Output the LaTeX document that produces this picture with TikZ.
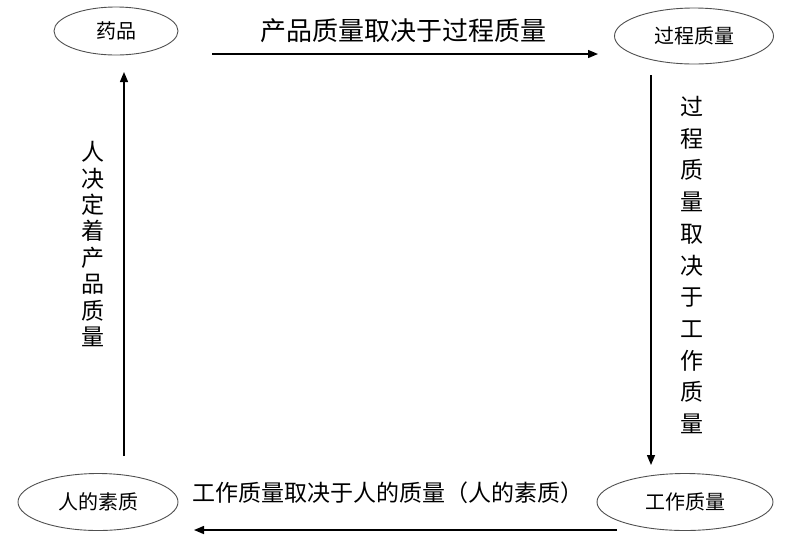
\documentclass[tikz,border=0pt]{standalone}
\usepackage{fontspec}
\setmainfont{Noto Sans CJK SC}
\usetikzlibrary{shapes.geometric,arrows.meta}
\tikzset{
  oval/.style={ellipse,draw={rgb,255:red,80;green,80;blue,80},line width=0.9pt,inner sep=0pt,font=\fontsize{20}{20}\selectfont},
  flow/.style={line width=1.4pt,-{Triangle[length=10pt,width=8pt]}},
}
\begin{document}
\begin{tikzpicture}[x=1pt,y=1pt,yscale=-1,xscale=1]
\useasboundingbox (0,0) rectangle (800,558);

% Ellipses
\node [oval,minimum width=124,minimum height=48] (yp) at (116,31) {药品};
\node [oval,minimum width=159,minimum height=56] (gczl) at (694,36) {过程质量};
\node [oval,minimum width=160,minimum height=57] (rdsz) at (98,502) {人的素质};
\node [oval,minimum width=176,minimum height=57] (gzzl) at (685,502) {工作质量};

% Arrow ends
\coordinate (topA) at (212,54);
\coordinate (topB) at (598,54);
\coordinate (rgtA) at (651,75);
\coordinate (rgtB) at (651,465);
\coordinate (botA) at (617,530);
\coordinate (botB) at (194,530);
\coordinate (lftA) at (124,456);
\coordinate (lftB) at (124,72);

%Straight Lines
\draw [flow] (topA) -- (topB);
\draw [flow] (rgtA) -- (rgtB);
\draw [flow] (botA) -- (botB);
\draw [flow] (lftA) -- (lftB);

% Text Node
\node [inner sep=0pt,font=\fontsize{26}{26}\selectfont] (ttop) at (403,31) {产品质量取决于过程质量};
% Text Node
\node [inner sep=0pt,font=\fontsize{23}{23}\selectfont] (tbot) at (388,493) {工作质量取决于人的质量（人的素质）};
% Text Node
\node [inner sep=0pt,align=center,font=\fontsize{23}{31.7}\selectfont] (trgt) at (692,265) {过\\程\\质\\量\\取\\决\\于\\工\\作\\质\\量};
% Text Node
\node [inner sep=0pt,align=center,font=\fontsize{23}{26.4}\selectfont] (tlft) at (93,244) {人\\决\\定\\着\\产\\品\\质\\量};

\end{tikzpicture}
\end{document}
